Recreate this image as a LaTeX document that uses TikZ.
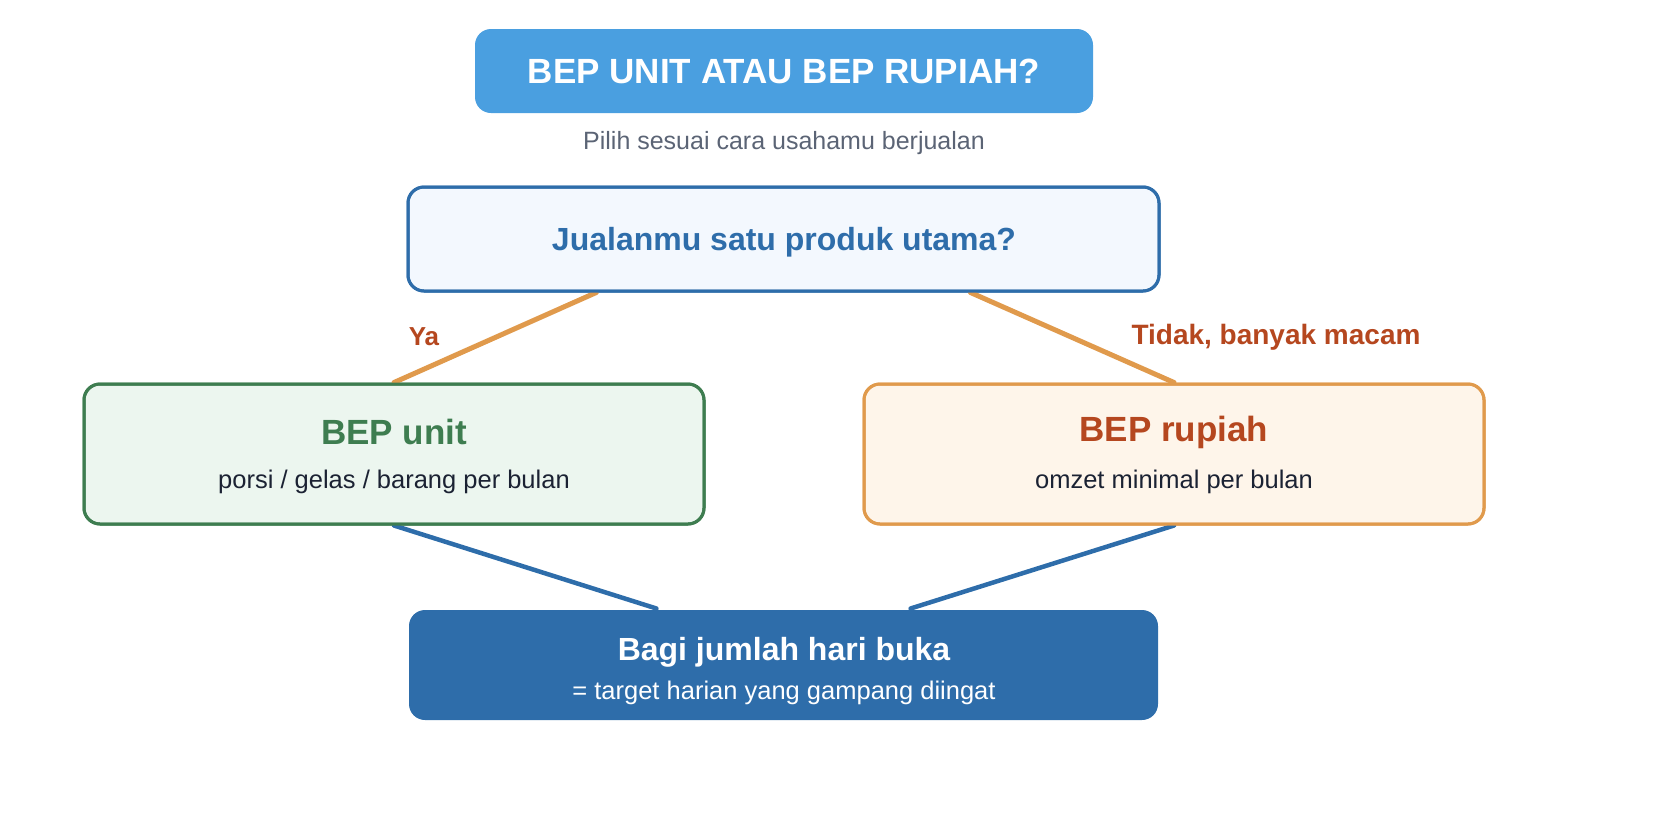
\documentclass[tikz,border=0pt]{standalone}
\usepackage{fontspec}
\setmainfont{Liberation Sans}
\usetikzlibrary{calc}
\definecolor{titlebg}{HTML}{4A9FE0}
\definecolor{qblue}{HTML}{2E6DAA}
\definecolor{qfill}{HTML}{F3F8FE}
\definecolor{green}{HTML}{3E7D50}
\definecolor{greenfill}{HTML}{ECF6EF}
\definecolor{orange}{HTML}{E09A4C}
\definecolor{orangefill}{HTML}{FEF5EA}
\definecolor{rust}{HTML}{B5471F}
\definecolor{darktext}{HTML}{1B2233}
\definecolor{graytext}{HTML}{5B6475}
\tikzset{
  box/.style={rounded corners=16pt, line width=3pt, inner sep=0pt},
  txt/.style={inner sep=0pt, anchor=center},
  yesline/.style={draw=orange, line width=5pt, line cap=round},
  joinline/.style={draw=qblue, line width=4.5pt, line cap=round},
}
\begin{document}
\begin{tikzpicture}[x=1pt,y=-1pt]
\useasboundingbox (0,0) rectangle (1672,820);
% boxes
\node[box, fill=titlebg, draw=none, minimum width=618pt, minimum height=84pt] (title) at (784,71) {};
\node[txt, text=white, font=\bfseries\fontsize{35}{42}\selectfont] (titletext) at (title.center) {BEP UNIT ATAU BEP RUPIAH?};
\node[txt, text=graytext, font=\fontsize{25}{30}\selectfont] (sub) at (784,143) {Pilih sesuai cara usahamu berjualan};

\node[box, fill=qfill, draw=qblue, minimum width=751pt, minimum height=104pt] (q) at (783.5,239) {};
\node[txt, text=qblue, font=\bfseries\fontsize{32}{38}\selectfont] (qtext) at (784,242) {Jualanmu satu produk utama?};

\node[box, fill=greenfill, draw=green, minimum width=620pt, minimum height=140pt] (unit) at (394,454) {};
\node[txt, text=green, font=\bfseries\fontsize{35}{42}\selectfont] (unittitle) at (394,432) {BEP unit};
\node[txt, text=darktext, font=\fontsize{25.5}{30}\selectfont] (unitsub) at (394,482) {porsi / gelas / barang per bulan};

\node[box, fill=orangefill, draw=orange, minimum width=620pt, minimum height=140pt] (rup) at (1174,454) {};
\node[txt, text=rust, font=\bfseries\fontsize{35}{42}\selectfont] (ruptitle) at (1174,432) {BEP rupiah};
\node[txt, text=darktext, font=\fontsize{25.5}{30}\selectfont] (rupsub) at (1174,482) {omzet minimal per bulan};

\node[box, fill=qblue, draw=none, minimum width=749pt, minimum height=110pt] (fin) at (783.5,665) {};
\node[txt, text=white, font=\bfseries\fontsize{32}{38}\selectfont] (fintitle) at (784,652) {Bagi jumlah hari buka};
\node[txt, text=white, font=\fontsize{25.5}{30}\selectfont] (finsub) at (784,693) {= target harian yang gampang diingat};

% connectors
\coordinate (qL) at ($(q.south west)!0.2517!(q.south east)$);
\coordinate (qR) at ($(q.south west)!0.748!(q.south east)$);
\coordinate (fL) at ($(fin.north west)!0.331!(fin.north east)$);
\coordinate (fR) at ($(fin.north west)!0.669!(fin.north east)$);
\draw[yesline] (qL) -- (unit.north);
\draw[yesline] (qR) -- (rup.north);
\draw[joinline] (unit.south) -- (fL);
\draw[joinline] (rup.south) -- (fR);
% redraw box borders over line ends
\node[box, draw=qblue, minimum width=751pt, minimum height=104pt] at (q.center) {};
\node[box, draw=green, minimum width=620pt, minimum height=140pt] at (unit.center) {};
\node[box, draw=orange, minimum width=620pt, minimum height=140pt] at (rup.center) {};

% labels
\node[txt, text=rust, font=\bfseries\fontsize{26}{31}\selectfont] (ya) at (424,337) {Ya};
\node[txt, text=rust, font=\bfseries\fontsize{28}{33}\selectfont] (tidak) at (1276,337) {Tidak, banyak macam};
\end{tikzpicture}
\end{document}
